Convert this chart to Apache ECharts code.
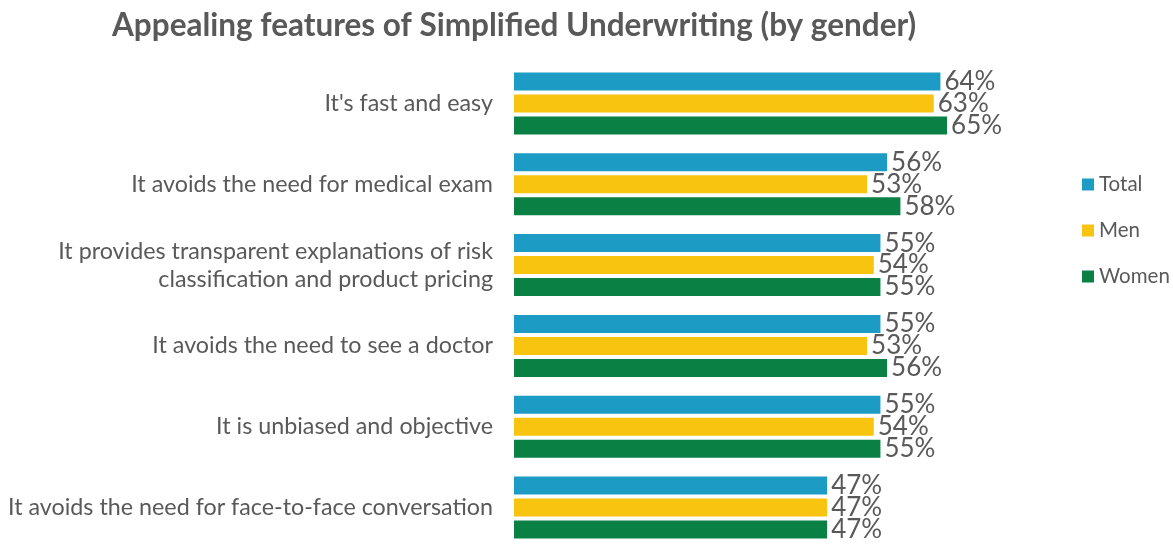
<!DOCTYPE html>
<html><head><meta charset="utf-8">
<script src="https://cdn.jsdelivr.net/npm/echarts@6/dist/echarts.min.js"></script>
<style>html,body{margin:0;padding:0;background:#fff}#c{width:1173px;height:548px}</style>
</head><body><div id="c"></div>
<script>
const categories = [
  "It's fast and easy",
  "It avoids the need for medical exam",
  "It provides transparent explanations of risk\nclassification and product pricing",
  "It avoids the need to see a doctor",
  "It is unbiased and objective",
  "It avoids the need for face-to-face conversation"
];
const seriesNames = ["Total", "Men", "Women"];
const totalValues = [64, 56, 55, 55, 55, 47];
const menValues = [63, 53, 54, 53, 54, 47];
const womenValues = [65, 58, 55, 56, 55, 47];
const colors = ["#1c9cc4", "#f8c40f", "#0a8045"];
const txt = "#595959";
const font = "Lato";

const chart = echarts.init(document.getElementById('c'));
const mk = (name, data, color) => ({
  name, type: 'bar', data, barWidth: 18, barGap: '22%',
  itemStyle: {color},
  label: {show: true, position: 'right', distance: 4, formatter: '{c}%', color: txt, fontSize: 26, fontFamily: font}
});
chart.setOption({
  animation: false,
  title: {text: 'Appealing features of Simplified Underwriting (by gender)', left: 107, top: 5,
    textStyle: {fontSize: 31.5, fontWeight: 'bold', color: txt, fontFamily: font}},
  legend: {orient: 'vertical', left: 1077, top: 169, itemWidth: 12, itemHeight: 12, itemGap: 25,
    icon: 'rect', textStyle: {fontSize: 20.5, color: txt, fontFamily: font}, data: seriesNames},
  grid: {left: 514, top: 63, width: 533, height: 491, containLabel: false},
  xAxis: {type: 'value', min: 0, max: 80, show: false},
  yAxis: {type: 'category', data: categories, inverse: true,
    axisLine: {show: false}, axisTick: {show: false},
    axisLabel: {margin: 21, fontSize: 23.3, color: txt, fontFamily: font, align: 'right', lineHeight: 28}},
  series: [mk(seriesNames[0], totalValues, colors[0]), mk(seriesNames[1], menValues, colors[1]), mk(seriesNames[2], womenValues, colors[2])]
});
</script></body></html>
